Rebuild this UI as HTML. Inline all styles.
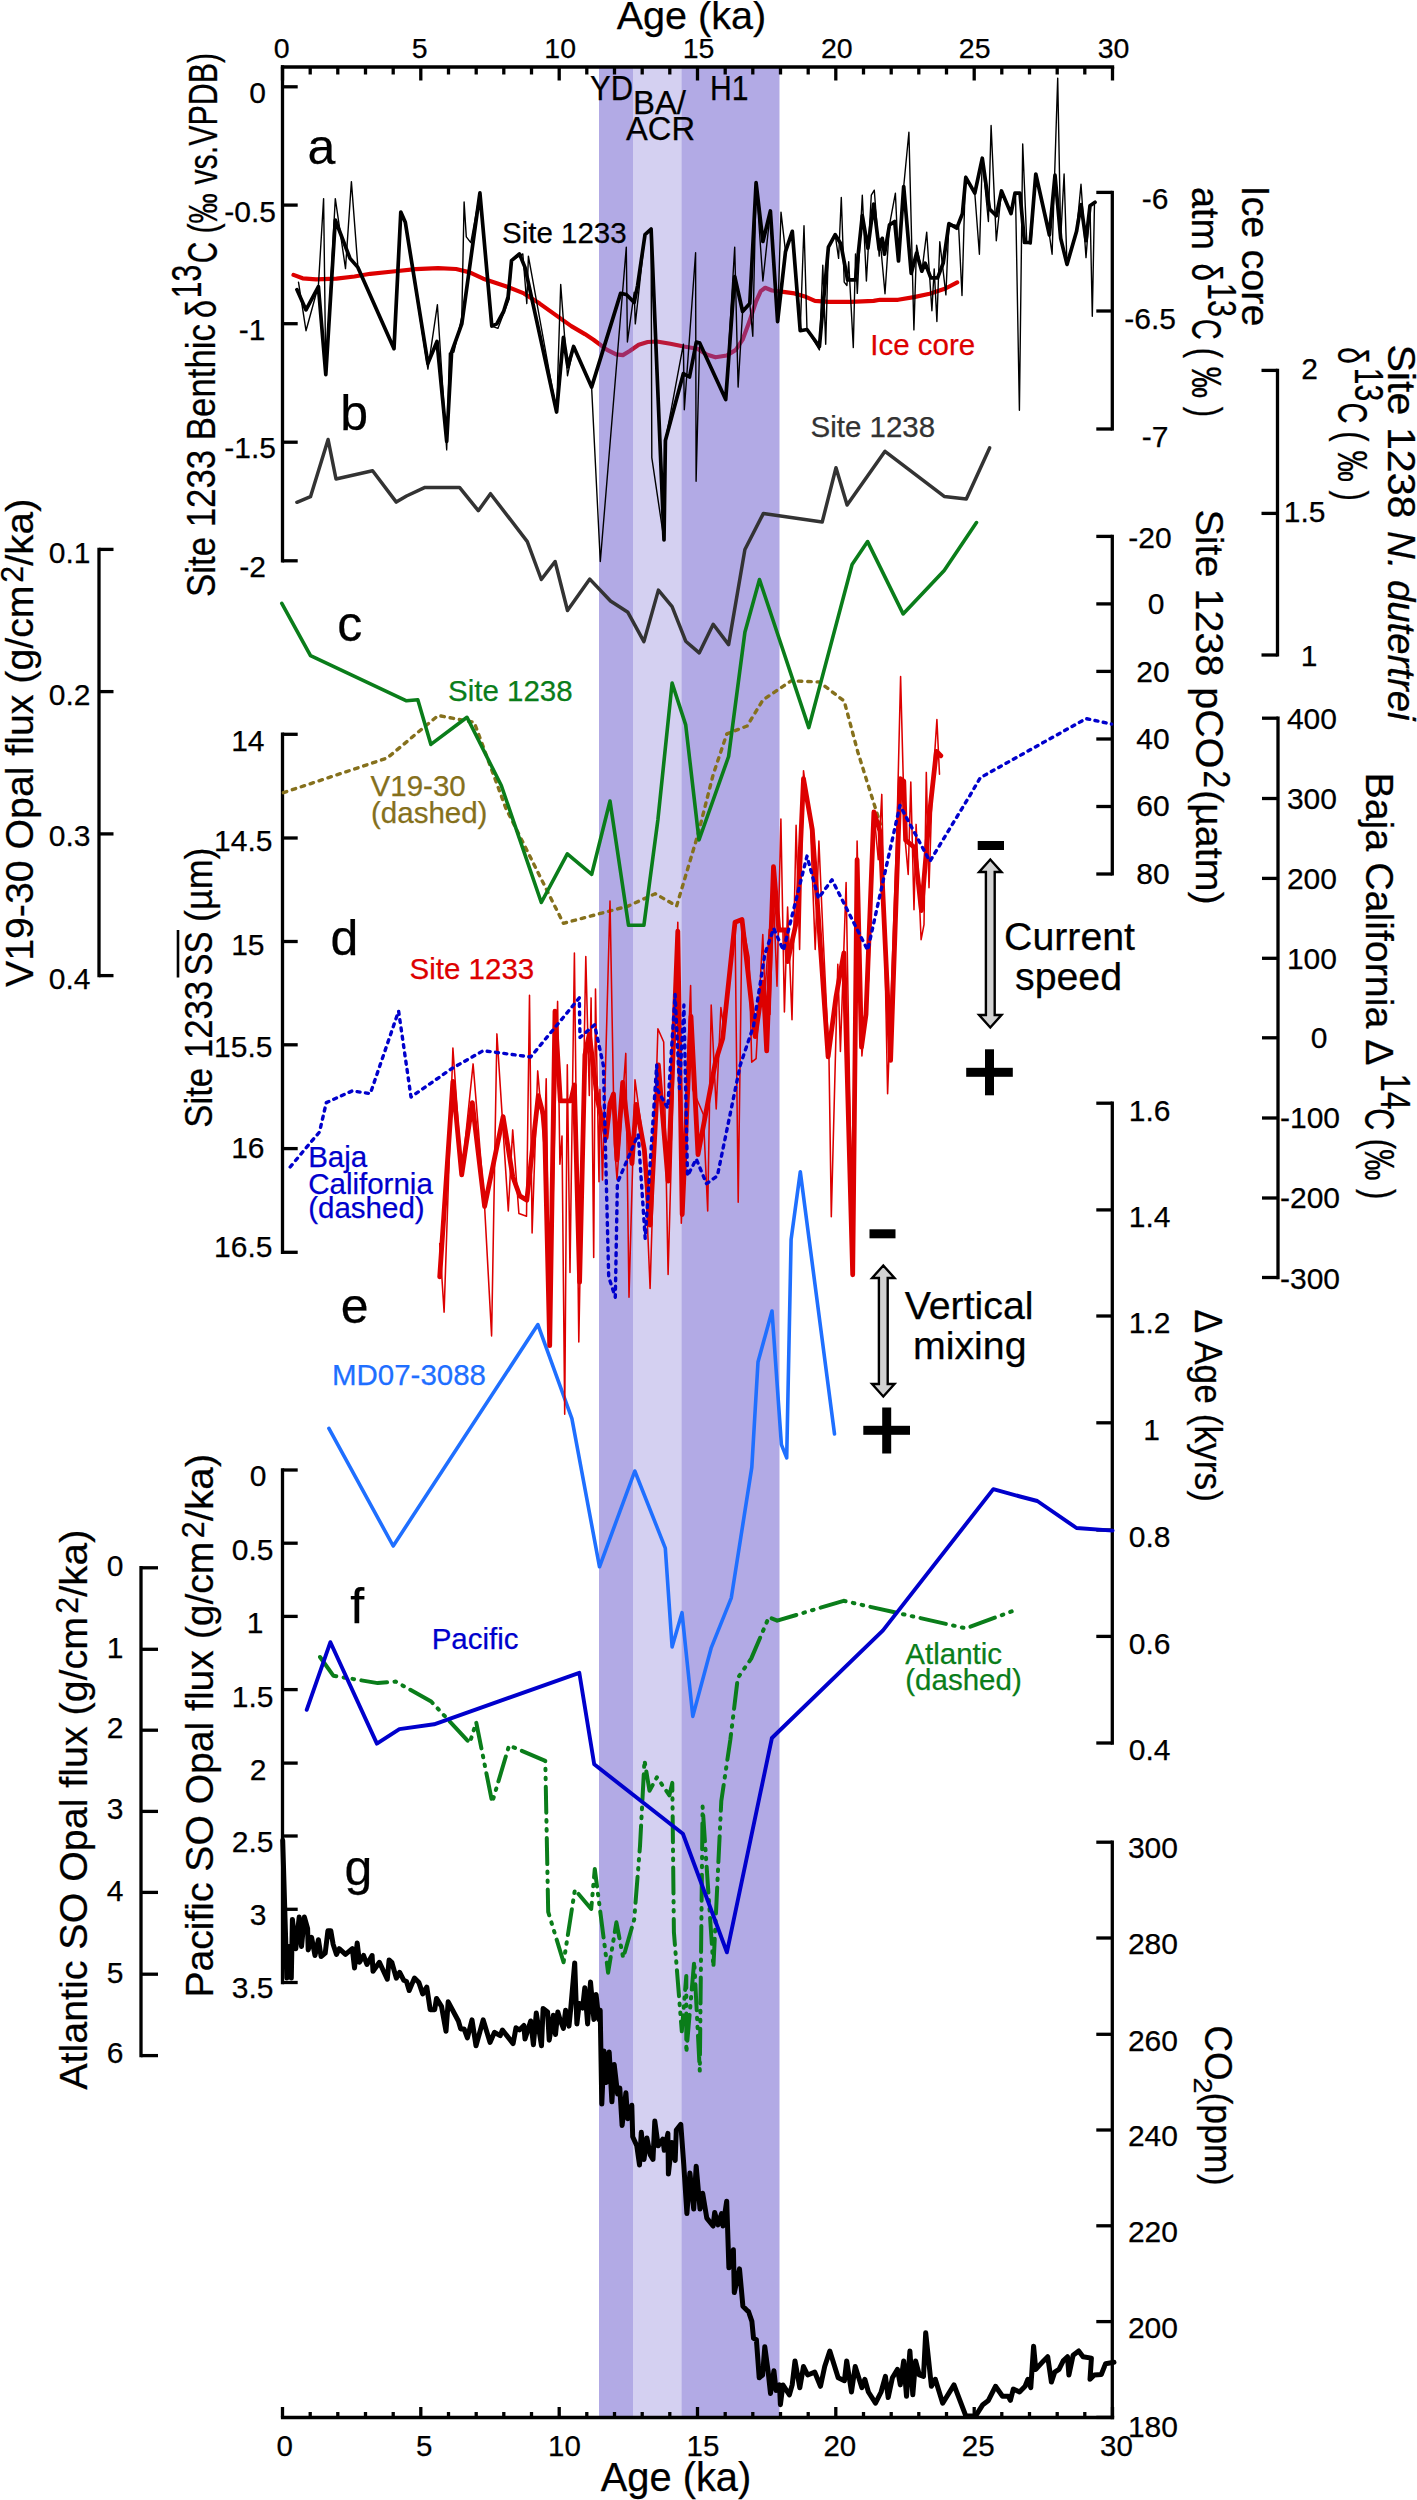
<!DOCTYPE html>
<html lang="en"><head><meta charset="utf-8"><title>Figure</title>
<style>html,body{margin:0;padding:0;background:#fff}svg{display:block}</style>
</head><body>
<svg width="1417" height="2500" viewBox="0 0 1417 2500" font-family="'Liberation Sans', Arial, sans-serif">
<rect width="1417" height="2500" fill="#fff"/>
<polyline points="293.5,274.9 302.6,278.3 316.1,279.4 336.5,278.7 354.5,276.5 370.3,273.8 392.9,271.5 415.5,269.2 438.1,268.1 456.1,269.0 469.7,272.4 483.2,278.7 505.8,286.2 523.9,293.4 539.7,303.6 555.5,314.9 571.3,326.1 584.9,334.1 593.5,339.7 607.1,349.9 616.1,354.4 622.9,355.1 629.7,351.0 638.7,344.7 647.7,342.0 656.8,341.5 670.3,343.8 683.9,346.5 697.4,348.7 706.5,354.4 715.5,357.3 726.8,355.5 735.8,349.9 742.6,339.7 749.4,321.6 756.1,301.3 760.7,291.1 765.2,287.8 772.0,290.5 783.2,291.8 794.5,293.4 805.8,296.8 814.9,300.9 828.4,301.8 851.0,301.8 873.6,300.9 880.0,299.8 898.1,299.8 913.9,297.1 929.7,293.7 945.5,288.5 957.2,282.4" fill="none" stroke="#dd0000" stroke-width="4.2" stroke-linejoin="round" stroke-linecap="round"/>
<rect x="599" y="67.0" width="34" height="2350.5" fill="#6655cc" fill-opacity="0.5"/>
<rect x="633" y="67.0" width="48.5" height="2350.5" fill="#6655cc" fill-opacity="0.28"/>
<rect x="681.5" y="67.0" width="98.0" height="2350.5" fill="#6655cc" fill-opacity="0.5"/>
<line x1="280.9" y1="67.0" x2="1114.2" y2="67.0" stroke="#000" stroke-width="3.3"/>
<line x1="282.5" y1="67.0" x2="282.5" y2="80.5" stroke="#000" stroke-width="3.3"/>
<line x1="310.2" y1="67.0" x2="310.2" y2="74.5" stroke="#000" stroke-width="3.3"/>
<line x1="337.8" y1="67.0" x2="337.8" y2="74.5" stroke="#000" stroke-width="3.3"/>
<line x1="365.5" y1="67.0" x2="365.5" y2="74.5" stroke="#000" stroke-width="3.3"/>
<line x1="393.2" y1="67.0" x2="393.2" y2="74.5" stroke="#000" stroke-width="3.3"/>
<line x1="420.8" y1="67.0" x2="420.8" y2="80.5" stroke="#000" stroke-width="3.3"/>
<line x1="448.5" y1="67.0" x2="448.5" y2="74.5" stroke="#000" stroke-width="3.3"/>
<line x1="476.2" y1="67.0" x2="476.2" y2="74.5" stroke="#000" stroke-width="3.3"/>
<line x1="503.8" y1="67.0" x2="503.8" y2="74.5" stroke="#000" stroke-width="3.3"/>
<line x1="531.5" y1="67.0" x2="531.5" y2="74.5" stroke="#000" stroke-width="3.3"/>
<line x1="559.2" y1="67.0" x2="559.2" y2="80.5" stroke="#000" stroke-width="3.3"/>
<line x1="586.8" y1="67.0" x2="586.8" y2="74.5" stroke="#000" stroke-width="3.3"/>
<line x1="614.5" y1="67.0" x2="614.5" y2="74.5" stroke="#000" stroke-width="3.3"/>
<line x1="642.2" y1="67.0" x2="642.2" y2="74.5" stroke="#000" stroke-width="3.3"/>
<line x1="669.8" y1="67.0" x2="669.8" y2="74.5" stroke="#000" stroke-width="3.3"/>
<line x1="697.5" y1="67.0" x2="697.5" y2="80.5" stroke="#000" stroke-width="3.3"/>
<line x1="725.2" y1="67.0" x2="725.2" y2="74.5" stroke="#000" stroke-width="3.3"/>
<line x1="752.8" y1="67.0" x2="752.8" y2="74.5" stroke="#000" stroke-width="3.3"/>
<line x1="780.5" y1="67.0" x2="780.5" y2="74.5" stroke="#000" stroke-width="3.3"/>
<line x1="808.2" y1="67.0" x2="808.2" y2="74.5" stroke="#000" stroke-width="3.3"/>
<line x1="835.8" y1="67.0" x2="835.8" y2="80.5" stroke="#000" stroke-width="3.3"/>
<line x1="863.5" y1="67.0" x2="863.5" y2="74.5" stroke="#000" stroke-width="3.3"/>
<line x1="891.2" y1="67.0" x2="891.2" y2="74.5" stroke="#000" stroke-width="3.3"/>
<line x1="918.8" y1="67.0" x2="918.8" y2="74.5" stroke="#000" stroke-width="3.3"/>
<line x1="946.5" y1="67.0" x2="946.5" y2="74.5" stroke="#000" stroke-width="3.3"/>
<line x1="974.2" y1="67.0" x2="974.2" y2="80.5" stroke="#000" stroke-width="3.3"/>
<line x1="1001.8" y1="67.0" x2="1001.8" y2="74.5" stroke="#000" stroke-width="3.3"/>
<line x1="1029.5" y1="67.0" x2="1029.5" y2="74.5" stroke="#000" stroke-width="3.3"/>
<line x1="1057.2" y1="67.0" x2="1057.2" y2="74.5" stroke="#000" stroke-width="3.3"/>
<line x1="1084.8" y1="67.0" x2="1084.8" y2="74.5" stroke="#000" stroke-width="3.3"/>
<line x1="1112.5" y1="67.0" x2="1112.5" y2="80.5" stroke="#000" stroke-width="3.3"/>
<line x1="280.9" y1="2417.5" x2="1114.2" y2="2417.5" stroke="#000" stroke-width="3.3"/>
<line x1="282.5" y1="2417.5" x2="282.5" y2="2407.0" stroke="#000" stroke-width="3.3"/>
<line x1="310.2" y1="2417.5" x2="310.2" y2="2412.0" stroke="#000" stroke-width="3.3"/>
<line x1="337.8" y1="2417.5" x2="337.8" y2="2412.0" stroke="#000" stroke-width="3.3"/>
<line x1="365.5" y1="2417.5" x2="365.5" y2="2412.0" stroke="#000" stroke-width="3.3"/>
<line x1="393.2" y1="2417.5" x2="393.2" y2="2412.0" stroke="#000" stroke-width="3.3"/>
<line x1="420.8" y1="2417.5" x2="420.8" y2="2407.0" stroke="#000" stroke-width="3.3"/>
<line x1="448.5" y1="2417.5" x2="448.5" y2="2412.0" stroke="#000" stroke-width="3.3"/>
<line x1="476.2" y1="2417.5" x2="476.2" y2="2412.0" stroke="#000" stroke-width="3.3"/>
<line x1="503.8" y1="2417.5" x2="503.8" y2="2412.0" stroke="#000" stroke-width="3.3"/>
<line x1="531.5" y1="2417.5" x2="531.5" y2="2412.0" stroke="#000" stroke-width="3.3"/>
<line x1="559.2" y1="2417.5" x2="559.2" y2="2407.0" stroke="#000" stroke-width="3.3"/>
<line x1="586.8" y1="2417.5" x2="586.8" y2="2412.0" stroke="#000" stroke-width="3.3"/>
<line x1="614.5" y1="2417.5" x2="614.5" y2="2412.0" stroke="#000" stroke-width="3.3"/>
<line x1="642.2" y1="2417.5" x2="642.2" y2="2412.0" stroke="#000" stroke-width="3.3"/>
<line x1="669.8" y1="2417.5" x2="669.8" y2="2412.0" stroke="#000" stroke-width="3.3"/>
<line x1="697.5" y1="2417.5" x2="697.5" y2="2407.0" stroke="#000" stroke-width="3.3"/>
<line x1="725.2" y1="2417.5" x2="725.2" y2="2412.0" stroke="#000" stroke-width="3.3"/>
<line x1="752.8" y1="2417.5" x2="752.8" y2="2412.0" stroke="#000" stroke-width="3.3"/>
<line x1="780.5" y1="2417.5" x2="780.5" y2="2412.0" stroke="#000" stroke-width="3.3"/>
<line x1="808.2" y1="2417.5" x2="808.2" y2="2412.0" stroke="#000" stroke-width="3.3"/>
<line x1="835.8" y1="2417.5" x2="835.8" y2="2407.0" stroke="#000" stroke-width="3.3"/>
<line x1="863.5" y1="2417.5" x2="863.5" y2="2412.0" stroke="#000" stroke-width="3.3"/>
<line x1="891.2" y1="2417.5" x2="891.2" y2="2412.0" stroke="#000" stroke-width="3.3"/>
<line x1="918.8" y1="2417.5" x2="918.8" y2="2412.0" stroke="#000" stroke-width="3.3"/>
<line x1="946.5" y1="2417.5" x2="946.5" y2="2412.0" stroke="#000" stroke-width="3.3"/>
<line x1="974.2" y1="2417.5" x2="974.2" y2="2407.0" stroke="#000" stroke-width="3.3"/>
<line x1="1001.8" y1="2417.5" x2="1001.8" y2="2412.0" stroke="#000" stroke-width="3.3"/>
<line x1="1029.5" y1="2417.5" x2="1029.5" y2="2412.0" stroke="#000" stroke-width="3.3"/>
<line x1="1057.2" y1="2417.5" x2="1057.2" y2="2412.0" stroke="#000" stroke-width="3.3"/>
<line x1="1084.8" y1="2417.5" x2="1084.8" y2="2412.0" stroke="#000" stroke-width="3.3"/>
<line x1="1112.5" y1="2417.5" x2="1112.5" y2="2407.0" stroke="#000" stroke-width="3.3"/>
<line x1="282.5" y1="65.3" x2="282.5" y2="562.4" stroke="#000" stroke-width="3.3"/>
<line x1="282.5" y1="86.8" x2="297.7" y2="86.8" stroke="#000" stroke-width="3.3"/>
<line x1="282.5" y1="205.1" x2="297.7" y2="205.1" stroke="#000" stroke-width="3.3"/>
<line x1="282.5" y1="323.7" x2="297.7" y2="323.7" stroke="#000" stroke-width="3.3"/>
<line x1="282.5" y1="442.2" x2="297.7" y2="442.2" stroke="#000" stroke-width="3.3"/>
<line x1="282.5" y1="560.8" x2="297.7" y2="560.8" stroke="#000" stroke-width="3.3"/>
<line x1="1112.3" y1="190.8" x2="1112.3" y2="430.6" stroke="#000" stroke-width="3.3"/>
<line x1="1112.3" y1="192.4" x2="1096.3" y2="192.4" stroke="#000" stroke-width="3.3"/>
<line x1="1112.3" y1="311.0" x2="1096.3" y2="311.0" stroke="#000" stroke-width="3.3"/>
<line x1="1112.3" y1="429.0" x2="1096.3" y2="429.0" stroke="#000" stroke-width="3.3"/>
<line x1="1277.5" y1="368.8" x2="1277.5" y2="656.6" stroke="#000" stroke-width="3.3"/>
<line x1="1277.5" y1="370.4" x2="1261.5" y2="370.4" stroke="#000" stroke-width="3.3"/>
<line x1="1277.5" y1="513.4" x2="1261.5" y2="513.4" stroke="#000" stroke-width="3.3"/>
<line x1="1277.5" y1="655.0" x2="1261.5" y2="655.0" stroke="#000" stroke-width="3.3"/>
<line x1="1112.3" y1="534.8" x2="1112.3" y2="875.6" stroke="#000" stroke-width="3.3"/>
<line x1="1112.3" y1="536.4" x2="1096.3" y2="536.4" stroke="#000" stroke-width="3.3"/>
<line x1="1112.3" y1="603.9" x2="1096.3" y2="603.9" stroke="#000" stroke-width="3.3"/>
<line x1="1112.3" y1="671.4" x2="1096.3" y2="671.4" stroke="#000" stroke-width="3.3"/>
<line x1="1112.3" y1="739.0" x2="1096.3" y2="739.0" stroke="#000" stroke-width="3.3"/>
<line x1="1112.3" y1="806.5" x2="1096.3" y2="806.5" stroke="#000" stroke-width="3.3"/>
<line x1="1112.3" y1="874.0" x2="1096.3" y2="874.0" stroke="#000" stroke-width="3.3"/>
<line x1="99.0" y1="547.8" x2="99.0" y2="977.2" stroke="#000" stroke-width="3.3"/>
<line x1="99.0" y1="549.4" x2="113.5" y2="549.4" stroke="#000" stroke-width="3.3"/>
<line x1="99.0" y1="691.6" x2="113.5" y2="691.6" stroke="#000" stroke-width="3.3"/>
<line x1="99.0" y1="833.9" x2="113.5" y2="833.9" stroke="#000" stroke-width="3.3"/>
<line x1="99.0" y1="975.6" x2="113.5" y2="975.6" stroke="#000" stroke-width="3.3"/>
<line x1="282.5" y1="732.6" x2="282.5" y2="1254.0" stroke="#000" stroke-width="3.3"/>
<line x1="282.5" y1="734.3" x2="297.7" y2="734.3" stroke="#000" stroke-width="3.3"/>
<line x1="282.5" y1="838.0" x2="297.7" y2="838.0" stroke="#000" stroke-width="3.3"/>
<line x1="282.5" y1="941.5" x2="297.7" y2="941.5" stroke="#000" stroke-width="3.3"/>
<line x1="282.5" y1="1044.8" x2="297.7" y2="1044.8" stroke="#000" stroke-width="3.3"/>
<line x1="282.5" y1="1148.6" x2="297.7" y2="1148.6" stroke="#000" stroke-width="3.3"/>
<line x1="282.5" y1="1252.3" x2="297.7" y2="1252.3" stroke="#000" stroke-width="3.3"/>
<line x1="1278.0" y1="716.6" x2="1278.0" y2="1279.2" stroke="#000" stroke-width="3.3"/>
<line x1="1278.0" y1="718.2" x2="1262.0" y2="718.2" stroke="#000" stroke-width="3.3"/>
<line x1="1278.0" y1="798.5" x2="1262.0" y2="798.5" stroke="#000" stroke-width="3.3"/>
<line x1="1278.0" y1="878.4" x2="1262.0" y2="878.4" stroke="#000" stroke-width="3.3"/>
<line x1="1278.0" y1="958.3" x2="1262.0" y2="958.3" stroke="#000" stroke-width="3.3"/>
<line x1="1278.0" y1="1037.8" x2="1262.0" y2="1037.8" stroke="#000" stroke-width="3.3"/>
<line x1="1278.0" y1="1118.0" x2="1262.0" y2="1118.0" stroke="#000" stroke-width="3.3"/>
<line x1="1278.0" y1="1198.0" x2="1262.0" y2="1198.0" stroke="#000" stroke-width="3.3"/>
<line x1="1278.0" y1="1277.5" x2="1262.0" y2="1277.5" stroke="#000" stroke-width="3.3"/>
<line x1="1112.3" y1="1101.5" x2="1112.3" y2="1744.7" stroke="#000" stroke-width="3.3"/>
<line x1="1112.3" y1="1103.2" x2="1096.3" y2="1103.2" stroke="#000" stroke-width="3.3"/>
<line x1="1112.3" y1="1209.9" x2="1096.3" y2="1209.9" stroke="#000" stroke-width="3.3"/>
<line x1="1112.3" y1="1316.0" x2="1096.3" y2="1316.0" stroke="#000" stroke-width="3.3"/>
<line x1="1112.3" y1="1422.8" x2="1096.3" y2="1422.8" stroke="#000" stroke-width="3.3"/>
<line x1="1112.3" y1="1530.0" x2="1096.3" y2="1530.0" stroke="#000" stroke-width="3.3"/>
<line x1="1112.3" y1="1636.4" x2="1096.3" y2="1636.4" stroke="#000" stroke-width="3.3"/>
<line x1="1112.3" y1="1743.0" x2="1096.3" y2="1743.0" stroke="#000" stroke-width="3.3"/>
<line x1="282.5" y1="1468.3" x2="282.5" y2="1984.2" stroke="#000" stroke-width="3.3"/>
<line x1="282.5" y1="1470.0" x2="297.7" y2="1470.0" stroke="#000" stroke-width="3.3"/>
<line x1="282.5" y1="1543.2" x2="297.7" y2="1543.2" stroke="#000" stroke-width="3.3"/>
<line x1="282.5" y1="1616.4" x2="297.7" y2="1616.4" stroke="#000" stroke-width="3.3"/>
<line x1="282.5" y1="1689.6" x2="297.7" y2="1689.6" stroke="#000" stroke-width="3.3"/>
<line x1="282.5" y1="1763.1" x2="297.7" y2="1763.1" stroke="#000" stroke-width="3.3"/>
<line x1="282.5" y1="1836.0" x2="297.7" y2="1836.0" stroke="#000" stroke-width="3.3"/>
<line x1="282.5" y1="1909.3" x2="297.7" y2="1909.3" stroke="#000" stroke-width="3.3"/>
<line x1="282.5" y1="1982.5" x2="297.7" y2="1982.5" stroke="#000" stroke-width="3.3"/>
<line x1="141.0" y1="1566.1" x2="141.0" y2="2057.2" stroke="#000" stroke-width="3.3"/>
<line x1="141.0" y1="1567.8" x2="158.0" y2="1567.8" stroke="#000" stroke-width="3.3"/>
<line x1="141.0" y1="1649.3" x2="158.0" y2="1649.3" stroke="#000" stroke-width="3.3"/>
<line x1="141.0" y1="1730.2" x2="158.0" y2="1730.2" stroke="#000" stroke-width="3.3"/>
<line x1="141.0" y1="1811.4" x2="158.0" y2="1811.4" stroke="#000" stroke-width="3.3"/>
<line x1="141.0" y1="1892.4" x2="158.0" y2="1892.4" stroke="#000" stroke-width="3.3"/>
<line x1="141.0" y1="1974.2" x2="158.0" y2="1974.2" stroke="#000" stroke-width="3.3"/>
<line x1="141.0" y1="2055.6" x2="158.0" y2="2055.6" stroke="#000" stroke-width="3.3"/>
<line x1="1112.3" y1="1840.5" x2="1112.3" y2="2419.2" stroke="#000" stroke-width="3.3"/>
<line x1="1112.3" y1="1842.2" x2="1096.3" y2="1842.2" stroke="#000" stroke-width="3.3"/>
<line x1="1112.3" y1="1938.0" x2="1096.3" y2="1938.0" stroke="#000" stroke-width="3.3"/>
<line x1="1112.3" y1="2034.3" x2="1096.3" y2="2034.3" stroke="#000" stroke-width="3.3"/>
<line x1="1112.3" y1="2130.0" x2="1096.3" y2="2130.0" stroke="#000" stroke-width="3.3"/>
<line x1="1112.3" y1="2225.8" x2="1096.3" y2="2225.8" stroke="#000" stroke-width="3.3"/>
<line x1="1112.3" y1="2321.6" x2="1096.3" y2="2321.6" stroke="#000" stroke-width="3.3"/>
<line x1="1112.3" y1="2417.4" x2="1096.3" y2="2417.4" stroke="#000" stroke-width="3.3"/>
<polyline points="283.4,792.7 387.3,758.0 438.1,715.5 474.2,722.3 505.8,808.1 563.4,923.3 628.1,906.1 655.2,893.7 676.6,906.1 698.1,833.9 713.2,774.5 726.8,733.9 747.1,726.0 762.9,700.0 791.2,680.8 819.4,682.0 844.2,701.1 857.8,752.0 880.4,824.2" fill="none" stroke="#85701c" stroke-width="3.4" stroke-linejoin="round" stroke-linecap="round" stroke-dasharray="3.5 5.9"/>
<polyline points="281.8,603.3 310.5,655.7 406.5,700.8 417.8,699.7 430.9,744.4 467.0,717.3 501.3,785.5 541.3,902.5 567.3,853.9 591.7,874.3 610.0,801.0 628.5,925.3 643.9,925.3 657.9,819.7 672.1,683.1 685.7,724.9 699.0,840.0 728.6,756.5 744.9,632.3 759.5,579.6 808.8,727.6 852.1,564.5 867.6,541.6 903.1,613.9 944.2,570.5 976.5,522.6" fill="none" stroke="#0a7d1a" stroke-width="3.6" stroke-linejoin="round" stroke-linecap="round"/>
<polyline points="296.9,502.3 310.5,496.7 328.1,439.5 336.0,479.0 372.6,470.7 396.3,502.1 406.5,496.0 425.0,487.4 459.5,487.4 478.3,510.7 490.5,493.7 527.3,541.6 541.3,579.5 555.1,561.5 567.5,610.5 589.8,579.1 610.5,601.0 627.9,612.3 643.9,641.6 658.4,590.1 672.1,606.6 685.7,641.2 699.2,652.9 713.2,624.2 728.6,644.6 744.9,549.5 763.4,513.4 822.2,522.0 836.0,467.8 847.1,505.0 885.0,451.3 944.2,496.4 966.3,498.9 989.6,447.9" fill="none" stroke="#333333" stroke-width="3.5" stroke-linejoin="round" stroke-linecap="round"/>
<polyline points="298.5,282.1 306.0,330.7 318.4,285.5 323.6,198.6 325.8,374.7 335.3,198.6 345.5,268.6 351.4,181.6 357.9,267.4 394.0,348.7 400.8,212.1 405.3,222.3 427.9,369.1 437.4,304.7 446.7,449.9 446.7,449.2 449.4,353.2 453.9,352.1 461.8,317.1 464.1,201.9 466.3,236.9 470.8,242.6 479.9,192.9 491.8,326.1 497.9,328.4 509.2,299.0 511.5,260.7 522.8,253.9 526.8,303.6 528.4,256.1 556.6,412.0 560.7,284.4 567.5,375.8 573.6,346.5 591.6,387.1 600.3,561.5 626.3,247.1 627.4,342.0 634.2,292.3 635.3,323.9 645.0,234.7 651.1,229.0 651.8,457.6 664.0,540.0 665.4,440.6 683.4,344.2 684.3,409.7 695.6,252.8 696.1,481.3 699.7,342.0 725.7,399.5 734.7,247.1 738.1,387.1 742.6,311.5 749.8,303.6 752.8,336.3 756.1,182.7 762.9,281.0 770.4,211.0 777.6,321.6 781.0,212.1 785.5,251.6 792.3,231.3 800.2,330.7 804.0,225.7 807.0,329.5 819.4,349.9 822.8,265.2 825.7,344.2 828.4,247.1 835.2,234.7 838.6,258.4 841.3,197.4 844.2,282.1 846.9,285.5 848.7,261.8 853.3,347.6 855.5,253.9 857.3,293.4 862.3,195.2 866.4,281.0 871.3,195.2 874.3,190.2 879.2,256.1 880.0,238.4 885.0,293.7 889.5,224.9 895.4,193.2 898.5,261.0 903.7,186.5 908.9,132.3 913.9,329.9 916.6,245.2 921.8,272.3 926.7,232.1 931.9,310.7 934.2,268.9 936.9,321.5 939.8,241.8 945.9,294.9 948.9,223.7 958.6,226.0 962.0,295.5 965.4,176.3 974.8,193.2 979.4,254.2 982.3,158.2 988.4,221.5 991.1,125.5 996.3,240.7 1001.5,191.0 1011.0,213.6 1015.5,193.2 1019.4,410.2 1022.7,144.0 1026.8,242.9 1030.9,244.1 1035.8,174.0 1049.4,235.0 1052.1,254.2 1057.7,78.1 1060.7,238.4 1064.1,174.0 1067.0,265.5 1076.5,231.6 1081.0,184.2 1086.0,257.6 1090.0,205.7 1092.3,316.3 1094.5,202.3" fill="none" stroke="#000" stroke-width="1.4" stroke-linejoin="round" stroke-linecap="round"/>
<polyline points="296.9,289.6 306.0,309.9 318.4,286.6 325.8,374.7 335.3,220.0 350.0,258.4 357.9,267.4 394.0,348.7 400.8,212.1 405.3,222.3 427.9,363.4 437.0,341.5 446.7,441.3 451.6,352.1 461.8,323.9 479.9,192.9 491.8,326.1 496.8,323.9 503.6,311.5 508.1,296.8 511.5,260.7 519.4,253.9 525.0,267.4 556.6,412.0 563.4,337.4 567.9,366.8 573.6,346.5 591.6,387.1 620.6,293.4 626.3,294.5 634.2,302.4 637.6,285.5 645.0,234.7 651.1,229.0 664.0,540.0 665.4,440.6 683.4,373.6 689.5,377.0 696.3,342.0 699.7,343.1 725.7,399.5 734.7,276.5 742.6,311.5 749.8,303.6 756.1,182.7 762.9,241.5 770.4,211.0 777.6,321.6 785.5,251.6 792.3,231.3 800.2,330.7 807.0,329.5 819.4,346.5 828.4,247.1 835.2,234.7 840.8,243.7 847.6,279.9 855.5,279.9 862.3,215.5 867.9,248.2 873.6,204.2 879.2,249.4 882.3,238.4 884.5,254.2 889.5,224.9 894.7,221.5 898.5,261.0 903.7,186.5 911.2,273.4 916.6,253.1 921.8,271.2 925.2,263.2 930.8,277.9 937.6,277.9 943.2,263.2 948.9,223.7 956.8,228.2 962.4,213.6 965.8,177.4 974.8,193.2 982.3,158.2 989.5,209.0 996.3,215.8 1001.5,191.0 1011.0,213.6 1015.0,193.2 1020.0,193.2 1024.5,242.5 1030.2,242.5 1035.8,174.0 1049.4,235.0 1055.0,175.2 1060.7,238.4 1067.0,264.4 1076.5,231.6 1081.0,204.5 1086.0,240.7 1090.0,205.7 1095.0,202.3" fill="none" stroke="#000" stroke-width="3.7" stroke-linejoin="round" stroke-linecap="round"/>
<polyline points="328.9,1428.3 393.2,1546.0 537.9,1324.6 571.9,1418.6 599.5,1566.8 634.8,1471.0 665.3,1548.1 672.1,1647.0 682.0,1612.7 692.8,1716.4 711.1,1648.2 731.3,1597.8 751.8,1467.4 758.0,1362.0 772.0,1311.0 781.4,1444.7 786.7,1457.9 791.1,1239.6 800.3,1171.8 834.5,1434.0" fill="none" stroke="#1f6fff" stroke-width="3.6" stroke-linejoin="round" stroke-linecap="round"/>
<polyline points="439.7,1243.5 444.1,1312.1 452.9,1048.0 461.7,1174.8 473.1,1063.9 484.6,1206.5 491.6,1335.9 496.9,1033.9 508.3,1210.9 512.7,1129.9 518.9,1213.5 526.5,1216.2 529.5,995.2 532.1,1232.9 537.7,1070.9 544.4,1150.1 546.2,1078.8 549.7,1345.6 557.6,1001.4 559.9,1164.2 562.0,1136.1 564.7,1414.2 567.3,1064.8 570.0,1272.5 574.4,953.0 578.8,1342.0 585.8,956.5 589.3,1095.6 591.1,997.9 593.7,1257.5 595.5,989.0 599.0,1181.8 599.9,1089.4 602.5,1180.1 610.0,901.1 614.4,1144.1 617.0,1179.3 625.8,1053.4 629.0,1297.3 635.0,1079.8 644.3,1149.4 650.1,1288.5 657.9,1028.8 663.7,1042.0 668.1,1274.4 677.8,922.3 681.3,1223.3 690.6,985.6 692.7,1089.5 703.3,1114.2 707.7,1211.0 711.2,1005.0 716.2,1108.9 720.9,1007.6 724.4,1031.4 735.0,922.3 738.2,1202.2 742.0,919.6 749.1,957.5 751.7,1062.2 756.1,1058.7 762.8,934.6 764.9,992.7 769.3,929.3 770.0,1014.5 773.5,896.5 777.0,986.3 780.9,819.1 784.4,1011.9 787.6,907.1 792.0,1019.8 796.1,825.2 799.6,949.4 803.5,770.7 810.5,826.1 815.2,949.4 818.9,841.1 822.8,930.0 829.0,1058.5 831.3,1216.7 837.8,964.3 840.4,1051.5 846.1,882.5 852.7,1271.3 857.1,841.1 861.9,1055.9 868.6,979.3 873.9,812.0 878.3,859.6 881.8,794.4 887.6,1093.7 896.8,834.9 900.6,676.5 904.7,834.9 908.2,874.5 910.8,782.1 914.0,909.8 916.1,824.4 921.1,939.7 924.0,924.7 926.3,772.4 929.0,887.7 932.0,794.4 936.9,719.6 939.5,774.2" fill="none" stroke="#dd0000" stroke-width="1.55" stroke-linejoin="round" stroke-linecap="round"/>
<polyline points="439.7,1276.9 452.9,1081.5 461.7,1174.8 472.3,1102.6 484.6,1206.5 503.1,1116.7 512.7,1176.5 519.8,1195.9 526.8,1200.3 538.3,1095.6 544.4,1118.5 549.7,1345.6 555.0,1011.1 560.3,1100.8 570.8,1100.8 574.4,1085.0 579.6,1282.2 584.9,1055.1 589.3,1033.9 597.3,1099.1 606.1,1137.8 610.0,1103.6 613.5,1093.9 617.0,1159.9 622.7,1082.5 632.0,1163.5 636.1,1104.5 644.3,1149.4 650.1,1225.1 658.4,1064.9 668.1,1181.1 677.8,931.1 682.2,1214.5 691.0,1016.4 698.0,1154.6 715.6,1061.3 722.7,1038.5 735.0,922.3 742.0,919.6 755.2,1036.7 763.2,982.1 766.7,1050.8 773.5,866.6 778.8,930.0 785.8,930.0 787.6,961.7 797.3,917.7 803.5,778.6 812.3,829.6 828.1,1056.8 836.0,996.9 843.9,952.9 852.7,1274.8 857.1,859.6 861.5,1047.1 866.0,1014.5 873.9,812.0 880.0,831.4 890.6,1060.3 900.3,778.6 903.8,781.2 905.6,840.2 914.4,847.3 921.4,910.6 929.3,815.6 936.4,751.3 940.8,755.7" fill="none" stroke="#dd0000" stroke-width="4.8" stroke-linejoin="round" stroke-linecap="round"/>
<polyline points="290.2,1167.0 307.1,1146.6 319.5,1132.0 326.3,1102.6 352.3,1090.9 370.3,1093.6 398.6,1011.1 411.0,1097.0 451.6,1068.7 483.2,1050.7 530.7,1057.0 579.3,997.9 580.0,1037.5 594.6,1024.8 603.4,1065.6 608.7,1276.9 615.3,1297.3 617.4,1182.8 638.2,1134.4 645.2,1238.3 656.7,1064.9 657.2,1089.5 667.7,1108.0 675.1,994.4 679.5,1088.6 683.9,1005.0 687.5,1175.8 696.3,1159.0 706.5,1183.7 717.4,1175.8 740.3,1064.9 753.5,1026.1 764.9,953.9 773.7,928.4 783.4,950.4 807.0,856.1 818.4,898.3 832.0,879.8 867.7,950.2 899.9,805.4 929.9,861.3 970.0,795.3 980.3,777.7 1086.1,718.6 1111.6,724.1" fill="none" stroke="#0000cc" stroke-width="3.4" stroke-linejoin="round" stroke-linecap="round" stroke-dasharray="3.0 5.4"/>
<polyline points="320.0,1657.0 333.3,1675.7 377.8,1683.1 395.6,1681.6 431.2,1701.5 469.7,1743.0 476.2,1722.3 492.2,1802.3 509.1,1745.4 545.3,1760.8 548.2,1911.9 563.6,1962.3 574.9,1889.7 591.2,1909.0 594.8,1869.0 608.1,1972.7 616.4,1922.3 623.2,1957.9 634.2,1919.4 640.0,1846.1 644.5,1760.3 649.5,1790.8 656.9,1777.3 669.4,1795.3 672.3,1782.9 673.9,1932.0 681.8,2031.3 686.3,1976.0 686.3,2052.8 694.2,1961.3 699.8,2070.9 702.6,1806.6 713.4,1967.0 721.3,1801.0 730.3,1740.0 737.8,1677.9 751.2,1658.6 768.9,1617.1 777.2,1620.7 843.6,1600.8 966.0,1628.4 1017.9,1609.1" fill="none" stroke="#0a7d1a" stroke-width="4.0" stroke-linejoin="round" stroke-linecap="round" stroke-dasharray="26 7.4 1.6 7.4 1.6 7.4"/>
<polyline points="306.7,1709.8 330.4,1642.2 376.9,1743.6 399.4,1729.1 434.1,1724.3 579.3,1672.8 594.2,1764.3 682.9,1833.8 726.9,1952.3 771.9,1738.0 883.0,1630.4 993.3,1489.1 1020.0,1496.5 1037.3,1501.0 1076.5,1528.0 1112.6,1530.6" fill="none" stroke="#0000cc" stroke-width="3.9" stroke-linejoin="round" stroke-linecap="round"/>
<polyline points="282.7,1840.3 285.6,1937.4 286.8,1978.1 289.0,1946.5 291.3,1978.1 292.4,1919.4 295.8,1948.7 299.2,1917.1 301.5,1946.5 304.4,1917.1 307.6,1928.4 308.2,1949.9 311.6,1937.4 315.0,1955.5 318.4,1939.7 321.1,1956.6 325.2,1953.2 327.9,1930.7 330.8,1930.7 333.1,1944.2 336.5,1954.4 339.2,1948.7 345.5,1954.4 352.3,1948.7 354.5,1967.9 357.2,1943.1 359.5,1962.3 363.6,1955.5 366.9,1964.5 372.1,1955.5 373.0,1971.3 379.4,1962.3 387.3,1979.2 389.1,1960.0 391.8,1962.3 396.3,1978.1 399.7,1972.4 403.8,1980.3 406.5,1981.5 409.2,1990.5 414.4,1978.1 418.9,1982.6 422.7,1993.9 426.8,1987.1 430.2,2009.7 434.7,2009.7 436.5,1998.4 441.5,2006.3 446.0,2031.2 448.2,2001.8 458.4,2021.0 460.7,2028.9 464.1,2028.9 467.4,2037.9 472.0,2019.9 476.0,2045.8 483.2,2019.9 490.0,2042.4 494.5,2032.3 500.2,2035.7 502.4,2030.0 513.1,2043.6 516.0,2027.8 519.4,2030.0 523.9,2025.5 525.0,2039.1 530.7,2021.0 533.4,2044.7 536.3,2013.1 541.5,2045.8 543.1,2008.6 547.6,2012.0 549.2,2040.2 553.3,2015.3 555.5,2034.5 557.8,2012.0 560.0,2019.4 563.4,2028.4 565.6,2010.3 569.0,2026.1 570.8,2008.1 574.7,1962.9 576.9,2023.9 579.2,2003.6 582.6,2008.1 584.8,1987.7 587.6,2023.9 590.5,1982.1 593.9,2019.4 596.1,1994.5 598.8,2019.4 600.2,2010.3 601.8,2104.1 604.0,2051.0 606.3,2082.6 609.2,2052.1 611.9,2101.8 614.2,2064.5 617.6,2093.9 619.8,2088.2 622.1,2125.5 625.9,2092.8 627.7,2118.7 631.8,2105.2 632.7,2136.8 636.8,2145.8 639.5,2165.0 641.3,2132.3 644.0,2159.4 646.9,2137.9 650.3,2154.9 653.0,2159.4 654.8,2121.0 658.2,2145.8 662.8,2139.1 664.3,2150.3 667.9,2133.4 668.4,2174.1 671.8,2142.4 675.2,2160.5 676.3,2130.0 680.8,2124.4 683.8,2165.0 686.9,2213.6 689.9,2172.9 693.7,2209.1 696.2,2166.2 700.0,2209.1 702.7,2193.3 706.8,2218.1 713.1,2226.0 714.7,2212.4 718.1,2224.9 721.5,2213.6 723.0,2226.0 726.7,2201.2 728.9,2267.8 733.4,2249.7 734.3,2292.6 739.5,2268.9 742.9,2306.2 747.4,2310.7 748.5,2311.5 751.9,2321.4 753.5,2338.3 756.4,2339.7 759.2,2377.8 762.6,2375.0 764.8,2346.8 768.2,2372.2 770.5,2393.4 773.9,2370.8 776.1,2390.5 779.5,2384.9 780.4,2404.7 782.9,2384.9 789.4,2394.8 792.2,2384.9 795.0,2360.9 799.8,2387.7 803.5,2366.5 807.7,2375.0 814.8,2372.2 820.5,2386.3 824.7,2366.5 829.8,2351.0 838.2,2377.8 844.4,2380.7 846.7,2360.9 851.5,2392.0 855.2,2366.5 861.9,2387.7 864.8,2379.3 868.4,2392.0 875.5,2403.2 881.1,2392.0 885.4,2376.4 888.2,2397.6 892.4,2377.8 897.5,2369.4 900.3,2384.9 903.7,2360.9 906.5,2396.2 909.9,2351.0 912.8,2394.8 915.6,2360.9 919.3,2375.0 923.5,2376.4 925.7,2332.7 931.4,2386.3 935.3,2379.3 942.7,2403.2 954.0,2384.9 965.8,2415.9 975.7,2415.9 982.8,2404.7 988.4,2400.4 995.5,2386.3 1002.5,2396.2 1008.2,2396.2 1010.4,2400.4 1013.3,2389.1 1019.5,2392.0 1025.1,2386.3 1027.9,2379.3 1030.8,2387.7 1033.6,2346.2 1035.8,2369.4 1043.5,2360.9 1047.7,2356.7 1051.4,2382.1 1054.7,2372.2 1059.0,2369.4 1063.2,2360.9 1067.5,2356.7 1068.9,2375.0 1073.1,2355.3 1078.7,2351.0 1083.0,2356.7 1091.4,2358.1 1090.0,2379.3 1094.3,2375.0 1101.3,2374.5 1105.6,2363.7 1114.0,2362.3" fill="none" stroke="#000" stroke-width="5.0" stroke-linejoin="round" stroke-linecap="round"/>
<text x="281.8" y="57.8" font-size="28.5" text-anchor="middle" fill="#000" stroke="#000" stroke-width="0.25">0</text>
<text x="419.8" y="57.8" font-size="28.5" text-anchor="middle" fill="#000" stroke="#000" stroke-width="0.25">5</text>
<text x="560.2" y="57.8" font-size="28.5" text-anchor="middle" fill="#000" stroke="#000" stroke-width="0.25">10</text>
<text x="698.5" y="57.8" font-size="28.5" text-anchor="middle" fill="#000" stroke="#000" stroke-width="0.25">15</text>
<text x="836.8" y="57.8" font-size="28.5" text-anchor="middle" fill="#000" stroke="#000" stroke-width="0.25">20</text>
<text x="974.7" y="57.8" font-size="28.5" text-anchor="middle" fill="#000" stroke="#000" stroke-width="0.25">25</text>
<text x="1113.5" y="57.8" font-size="28.5" text-anchor="middle" fill="#000" stroke="#000" stroke-width="0.25">30</text>
<text x="284.7" y="2456.0" font-size="29.5" text-anchor="middle" fill="#000" stroke="#000" stroke-width="0.25">0</text>
<text x="424.3" y="2456.0" font-size="29.5" text-anchor="middle" fill="#000" stroke="#000" stroke-width="0.25">5</text>
<text x="564.4" y="2456.0" font-size="29.5" text-anchor="middle" fill="#000" stroke="#000" stroke-width="0.25">10</text>
<text x="703.0" y="2456.0" font-size="29.5" text-anchor="middle" fill="#000" stroke="#000" stroke-width="0.25">15</text>
<text x="839.8" y="2456.0" font-size="29.5" text-anchor="middle" fill="#000" stroke="#000" stroke-width="0.25">20</text>
<text x="978.2" y="2456.0" font-size="29.5" text-anchor="middle" fill="#000" stroke="#000" stroke-width="0.25">25</text>
<text x="1116.5" y="2456.0" font-size="29.5" text-anchor="middle" fill="#000" stroke="#000" stroke-width="0.25">30</text>
<text x="266.0" y="102.6" font-size="30" text-anchor="end" fill="#000" stroke="#000" stroke-width="0.25">0</text>
<text x="276.0" y="221.7" font-size="30" text-anchor="end" fill="#000" stroke="#000" stroke-width="0.25">-0.5</text>
<text x="265.5" y="339.7" font-size="30" text-anchor="end" fill="#000" stroke="#000" stroke-width="0.25">-1</text>
<text x="276.0" y="458.2" font-size="30" text-anchor="end" fill="#000" stroke="#000" stroke-width="0.25">-1.5</text>
<text x="266.0" y="577.4" font-size="30" text-anchor="end" fill="#000" stroke="#000" stroke-width="0.25">-2</text>
<text x="1155.0" y="209.2" font-size="30" text-anchor="middle" fill="#000" stroke="#000" stroke-width="0.25">-6</text>
<text x="1150.2" y="328.7" font-size="30" text-anchor="middle" fill="#000" stroke="#000" stroke-width="0.25">-6.5</text>
<text x="1155.0" y="447.3" font-size="30" text-anchor="middle" fill="#000" stroke="#000" stroke-width="0.25">-7</text>
<text x="1309.7" y="379.0" font-size="30" text-anchor="middle" fill="#000" stroke="#000" stroke-width="0.25">2</text>
<text x="1304.7" y="522.2" font-size="30" text-anchor="middle" fill="#000" stroke="#000" stroke-width="0.25">1.5</text>
<text x="1309.0" y="665.7" font-size="30" text-anchor="middle" fill="#000" stroke="#000" stroke-width="0.25">1</text>
<text x="1150.0" y="548.1" font-size="30" text-anchor="middle" fill="#000" stroke="#000" stroke-width="0.25">-20</text>
<text x="1156.0" y="613.7" font-size="30" text-anchor="middle" fill="#000" stroke="#000" stroke-width="0.25">0</text>
<text x="1153.0" y="682.3" font-size="30" text-anchor="middle" fill="#000" stroke="#000" stroke-width="0.25">20</text>
<text x="1153.0" y="748.8" font-size="30" text-anchor="middle" fill="#000" stroke="#000" stroke-width="0.25">40</text>
<text x="1153.0" y="816.4" font-size="30" text-anchor="middle" fill="#000" stroke="#000" stroke-width="0.25">60</text>
<text x="1153.0" y="884.0" font-size="30" text-anchor="middle" fill="#000" stroke="#000" stroke-width="0.25">80</text>
<text x="90.5" y="563.3" font-size="30" text-anchor="end" fill="#000" stroke="#000" stroke-width="0.25">0.1</text>
<text x="90.5" y="704.7" font-size="30" text-anchor="end" fill="#000" stroke="#000" stroke-width="0.25">0.2</text>
<text x="90.5" y="846.4" font-size="30" text-anchor="end" fill="#000" stroke="#000" stroke-width="0.25">0.3</text>
<text x="90.5" y="988.7" font-size="30" text-anchor="end" fill="#000" stroke="#000" stroke-width="0.25">0.4</text>
<text x="264.5" y="750.9" font-size="30" text-anchor="end" fill="#000" stroke="#000" stroke-width="0.25">14</text>
<text x="272.5" y="850.7" font-size="30" text-anchor="end" fill="#000" stroke="#000" stroke-width="0.25">14.5</text>
<text x="264.5" y="954.5" font-size="30" text-anchor="end" fill="#000" stroke="#000" stroke-width="0.25">15</text>
<text x="272.5" y="1057.0" font-size="30" text-anchor="end" fill="#000" stroke="#000" stroke-width="0.25">15.5</text>
<text x="264.5" y="1157.7" font-size="30" text-anchor="end" fill="#000" stroke="#000" stroke-width="0.25">16</text>
<text x="272.5" y="1257.1" font-size="30" text-anchor="end" fill="#000" stroke="#000" stroke-width="0.25">16.5</text>
<text x="1337.0" y="729.1" font-size="30" text-anchor="end" fill="#000" stroke="#000" stroke-width="0.25">400</text>
<text x="1337.0" y="809.2" font-size="30" text-anchor="end" fill="#000" stroke="#000" stroke-width="0.25">300</text>
<text x="1337.0" y="889.1" font-size="30" text-anchor="end" fill="#000" stroke="#000" stroke-width="0.25">200</text>
<text x="1337.0" y="969.0" font-size="30" text-anchor="end" fill="#000" stroke="#000" stroke-width="0.25">100</text>
<text x="1327.5" y="1048.2" font-size="30" text-anchor="end" fill="#000" stroke="#000" stroke-width="0.25">0</text>
<text x="1340.0" y="1128.3" font-size="30" text-anchor="end" fill="#000" stroke="#000" stroke-width="0.25">-100</text>
<text x="1340.0" y="1207.8" font-size="30" text-anchor="end" fill="#000" stroke="#000" stroke-width="0.25">-200</text>
<text x="1340.0" y="1288.5" font-size="30" text-anchor="end" fill="#000" stroke="#000" stroke-width="0.25">-300</text>
<text x="1170.5" y="1120.5" font-size="30" text-anchor="end" fill="#000" stroke="#000" stroke-width="0.25">1.6</text>
<text x="1170.5" y="1226.9" font-size="30" text-anchor="end" fill="#000" stroke="#000" stroke-width="0.25">1.4</text>
<text x="1170.5" y="1333.3" font-size="30" text-anchor="end" fill="#000" stroke="#000" stroke-width="0.25">1.2</text>
<text x="1160.0" y="1440.4" font-size="30" text-anchor="end" fill="#000" stroke="#000" stroke-width="0.25">1</text>
<text x="1170.5" y="1547.2" font-size="30" text-anchor="end" fill="#000" stroke="#000" stroke-width="0.25">0.8</text>
<text x="1170.5" y="1653.7" font-size="30" text-anchor="end" fill="#000" stroke="#000" stroke-width="0.25">0.6</text>
<text x="1170.5" y="1760.2" font-size="30" text-anchor="end" fill="#000" stroke="#000" stroke-width="0.25">0.4</text>
<text x="266.5" y="1486.3" font-size="30" text-anchor="end" fill="#000" stroke="#000" stroke-width="0.25">0</text>
<text x="273.5" y="1559.7" font-size="30" text-anchor="end" fill="#000" stroke="#000" stroke-width="0.25">0.5</text>
<text x="263.5" y="1632.9" font-size="30" text-anchor="end" fill="#000" stroke="#000" stroke-width="0.25">1</text>
<text x="273.5" y="1706.9" font-size="30" text-anchor="end" fill="#000" stroke="#000" stroke-width="0.25">1.5</text>
<text x="266.5" y="1779.5" font-size="30" text-anchor="end" fill="#000" stroke="#000" stroke-width="0.25">2</text>
<text x="273.5" y="1852.2" font-size="30" text-anchor="end" fill="#000" stroke="#000" stroke-width="0.25">2.5</text>
<text x="266.5" y="1924.7" font-size="30" text-anchor="end" fill="#000" stroke="#000" stroke-width="0.25">3</text>
<text x="273.5" y="1998.3" font-size="30" text-anchor="end" fill="#000" stroke="#000" stroke-width="0.25">3.5</text>
<text x="115.0" y="1575.5" font-size="30" text-anchor="middle" fill="#000" stroke="#000" stroke-width="0.25">0</text>
<text x="115.0" y="1657.7" font-size="30" text-anchor="middle" fill="#000" stroke="#000" stroke-width="0.25">1</text>
<text x="115.0" y="1738.3" font-size="30" text-anchor="middle" fill="#000" stroke="#000" stroke-width="0.25">2</text>
<text x="115.0" y="1819.3" font-size="30" text-anchor="middle" fill="#000" stroke="#000" stroke-width="0.25">3</text>
<text x="115.0" y="1901.4" font-size="30" text-anchor="middle" fill="#000" stroke="#000" stroke-width="0.25">4</text>
<text x="115.0" y="1982.9" font-size="30" text-anchor="middle" fill="#000" stroke="#000" stroke-width="0.25">5</text>
<text x="115.0" y="2062.7" font-size="30" text-anchor="middle" fill="#000" stroke="#000" stroke-width="0.25">6</text>
<text x="1178.0" y="1858.4" font-size="30" text-anchor="end" fill="#000" stroke="#000" stroke-width="0.25">300</text>
<text x="1178.0" y="1954.2" font-size="30" text-anchor="end" fill="#000" stroke="#000" stroke-width="0.25">280</text>
<text x="1178.0" y="2050.5" font-size="30" text-anchor="end" fill="#000" stroke="#000" stroke-width="0.25">260</text>
<text x="1178.0" y="2146.2" font-size="30" text-anchor="end" fill="#000" stroke="#000" stroke-width="0.25">240</text>
<text x="1178.0" y="2242.0" font-size="30" text-anchor="end" fill="#000" stroke="#000" stroke-width="0.25">220</text>
<text x="1178.0" y="2337.8" font-size="30" text-anchor="end" fill="#000" stroke="#000" stroke-width="0.25">200</text>
<text x="1178.0" y="2436.7" font-size="30" text-anchor="end" fill="#000" stroke="#000" stroke-width="0.25">180</text>
<text x="691.5" y="28.6" font-size="39.6" text-anchor="middle" fill="#000" stroke="#000" stroke-width="0.25">Age (ka)</text>
<text x="676.0" y="2491.0" font-size="39.8" text-anchor="middle" fill="#000" stroke="#000" stroke-width="0.25">Age (ka)</text>
<text transform="translate(215.3,597.0) rotate(-90)" font-size="40" text-anchor="start" fill="#000" stroke="#000" stroke-width="0.25" textLength="273.0" lengthAdjust="spacingAndGlyphs">Site 1233 Benthic</text>
<text transform="translate(215.6,318.2) rotate(-90)" font-size="42" text-anchor="start" fill="#000" stroke="#000" stroke-width="0.25" textLength="18.5" lengthAdjust="spacingAndGlyphs">δ</text>
<text transform="translate(201.0,298.3) rotate(-90)" font-size="42" text-anchor="start" fill="#000" stroke="#000" stroke-width="0.25" textLength="33.5" lengthAdjust="spacingAndGlyphs">13</text>
<text transform="translate(217.0,263.2) rotate(-90)" font-size="42" text-anchor="start" fill="#000" stroke="#000" stroke-width="0.25" textLength="21.5" lengthAdjust="spacingAndGlyphs">C</text>
<text transform="translate(216.8,233.5) rotate(-90)" font-size="40" text-anchor="start" fill="#000" stroke="#000" stroke-width="0.25" textLength="180.5" lengthAdjust="spacingAndGlyphs">(‰ vs.VPDB)</text>
<text transform="translate(32.6,987.0) rotate(-90)" font-size="39" text-anchor="start" fill="#000" stroke="#000" stroke-width="0.25" textLength="401.5" lengthAdjust="spacingAndGlyphs">V19-30 Opal flux (g/cm</text>
<text transform="translate(23.3,582.8) rotate(-90)" font-size="32" text-anchor="start" fill="#000" stroke="#000" stroke-width="0.25" textLength="16.8" lengthAdjust="spacingAndGlyphs">2</text>
<text transform="translate(32.6,566.0) rotate(-90)" font-size="39" text-anchor="start" fill="#000" stroke="#000" stroke-width="0.25" textLength="67.5" lengthAdjust="spacingAndGlyphs">/ka)</text>
<text transform="translate(211.9,1127.8) rotate(-90)" font-size="39" text-anchor="start" fill="#000" stroke="#000" stroke-width="0.25" textLength="147.0" lengthAdjust="spacingAndGlyphs">Site 1233</text>
<text transform="translate(211.9,975.5) rotate(-90)" font-size="39" text-anchor="start" fill="#000" stroke="#000" stroke-width="0.25" textLength="44.0" lengthAdjust="spacingAndGlyphs">SS</text>
<line x1="178.0" y1="930.0" x2="178.0" y2="977.5" stroke="#000" stroke-width="2.6"/>
<text transform="translate(211.9,922.0) rotate(-90)" font-size="39" text-anchor="start" fill="#000" stroke="#000" stroke-width="0.25" textLength="74.5" lengthAdjust="spacingAndGlyphs">(µm)</text>
<text transform="translate(213.4,1997.6) rotate(-90)" font-size="39" text-anchor="start" fill="#000" stroke="#000" stroke-width="0.25" textLength="456.0" lengthAdjust="spacingAndGlyphs">Pacific SO Opal flux (g/cm</text>
<text transform="translate(203.5,1538.2) rotate(-90)" font-size="32" text-anchor="start" fill="#000" stroke="#000" stroke-width="0.25" textLength="16.8" lengthAdjust="spacingAndGlyphs">2</text>
<text transform="translate(213.4,1521.3) rotate(-90)" font-size="39" text-anchor="start" fill="#000" stroke="#000" stroke-width="0.25" textLength="67.5" lengthAdjust="spacingAndGlyphs">/ka)</text>
<text transform="translate(87.4,2089.7) rotate(-90)" font-size="39" text-anchor="start" fill="#000" stroke="#000" stroke-width="0.25" textLength="472.7" lengthAdjust="spacingAndGlyphs">Atlantic SO Opal flux (g/cm</text>
<text transform="translate(77.5,1613.7) rotate(-90)" font-size="32" text-anchor="start" fill="#000" stroke="#000" stroke-width="0.25" textLength="16.8" lengthAdjust="spacingAndGlyphs">2</text>
<text transform="translate(87.4,1597.0) rotate(-90)" font-size="39" text-anchor="start" fill="#000" stroke="#000" stroke-width="0.25" textLength="67.5" lengthAdjust="spacingAndGlyphs">/ka)</text>
<text transform="translate(1241.9,185.5) rotate(90)" font-size="38" text-anchor="start" fill="#000" stroke="#000" stroke-width="0.25" textLength="141.0" lengthAdjust="spacingAndGlyphs">Ice core</text>
<text transform="translate(1192.0,187.0) rotate(90)" font-size="38" text-anchor="start" fill="#000" stroke="#000" stroke-width="0.25" textLength="63.0" lengthAdjust="spacingAndGlyphs">atm</text>
<text transform="translate(1191.5,263.4) rotate(90)" font-size="42" text-anchor="start" fill="#000" stroke="#000" stroke-width="0.25" textLength="17.5" lengthAdjust="spacingAndGlyphs">δ</text>
<text transform="translate(1208.3,283.0) rotate(90)" font-size="41.5" text-anchor="start" fill="#000" stroke="#000" stroke-width="0.25" textLength="34.0" lengthAdjust="spacingAndGlyphs">13</text>
<text transform="translate(1191.5,318.8) rotate(90)" font-size="42" text-anchor="start" fill="#000" stroke="#000" stroke-width="0.25" textLength="21.0" lengthAdjust="spacingAndGlyphs">C</text>
<text transform="translate(1191.5,347.7) rotate(90)" font-size="42" text-anchor="start" fill="#000" stroke="#000" stroke-width="0.25" textLength="69.5" lengthAdjust="spacingAndGlyphs">( ‰ )</text>
<text transform="translate(1387.9,344.5) rotate(90)" font-size="39" text-anchor="start" fill="#000" stroke="#000" stroke-width="0.25" textLength="174.0" lengthAdjust="spacingAndGlyphs">Site 1238</text>
<text transform="translate(1387.9,531.0) rotate(90)" font-size="39" text-anchor="start" fill="#000" stroke="#000" stroke-width="0.25" textLength="189.5" lengthAdjust="spacingAndGlyphs" style="font-style:italic">N. dutertrei</text>
<text transform="translate(1337.8,347.1) rotate(90)" font-size="42" text-anchor="start" fill="#000" stroke="#000" stroke-width="0.25" textLength="17.0" lengthAdjust="spacingAndGlyphs">δ</text>
<text transform="translate(1355.2,367.8) rotate(90)" font-size="41.5" text-anchor="start" fill="#000" stroke="#000" stroke-width="0.25" textLength="33.5" lengthAdjust="spacingAndGlyphs">13</text>
<text transform="translate(1337.8,402.4) rotate(90)" font-size="42" text-anchor="start" fill="#000" stroke="#000" stroke-width="0.25" textLength="21.0" lengthAdjust="spacingAndGlyphs">C</text>
<text transform="translate(1337.8,431.3) rotate(90)" font-size="42" text-anchor="start" fill="#000" stroke="#000" stroke-width="0.25" textLength="69.7" lengthAdjust="spacingAndGlyphs">( ‰ )</text>
<text transform="translate(1196.1,509.5) rotate(90)" font-size="39" text-anchor="start" fill="#000" stroke="#000" stroke-width="0.25" textLength="259.0" lengthAdjust="spacingAndGlyphs">Site 1238 pCO</text>
<text transform="translate(1204.0,770.4) rotate(90)" font-size="36" text-anchor="start" fill="#000" stroke="#000" stroke-width="0.25" textLength="17.6" lengthAdjust="spacingAndGlyphs">2</text>
<text transform="translate(1196.1,790.1) rotate(90)" font-size="39" text-anchor="start" fill="#000" stroke="#000" stroke-width="0.25" textLength="114.4" lengthAdjust="spacingAndGlyphs">(µatm)</text>
<text transform="translate(1365.6,772.5) rotate(90)" font-size="39" text-anchor="start" fill="#000" stroke="#000" stroke-width="0.25" textLength="293.0" lengthAdjust="spacingAndGlyphs">Baja California Δ</text>
<text transform="translate(1381.0,1073.8) rotate(90)" font-size="42" text-anchor="start" fill="#000" stroke="#000" stroke-width="0.25" textLength="36.0" lengthAdjust="spacingAndGlyphs">14</text>
<text transform="translate(1365.2,1108.2) rotate(90)" font-size="42" text-anchor="start" fill="#000" stroke="#000" stroke-width="0.25" textLength="22.0" lengthAdjust="spacingAndGlyphs">C</text>
<text transform="translate(1365.2,1138.8) rotate(90)" font-size="42" text-anchor="start" fill="#000" stroke="#000" stroke-width="0.25" textLength="60.5" lengthAdjust="spacingAndGlyphs">(‰ )</text>
<text transform="translate(1195.2,1309.5) rotate(90)" font-size="39" text-anchor="start" fill="#000" stroke="#000" stroke-width="0.25" textLength="192.5" lengthAdjust="spacingAndGlyphs">Δ Age (kyrs)</text>
<text transform="translate(1205.0,2025.5) rotate(90)" font-size="39" text-anchor="start" fill="#000" stroke="#000" stroke-width="0.25" textLength="55.0" lengthAdjust="spacingAndGlyphs">CO</text>
<text transform="translate(1194.2,2077.5) rotate(90)" font-size="26" text-anchor="start" fill="#000" stroke="#000" stroke-width="0.25" textLength="16.0" lengthAdjust="spacingAndGlyphs">2</text>
<text transform="translate(1205.0,2092.5) rotate(90)" font-size="39" text-anchor="start" fill="#000" stroke="#000" stroke-width="0.25" textLength="93.0" lengthAdjust="spacingAndGlyphs">(ppm)</text>
<text x="590.0" y="99.5" font-size="35" text-anchor="start" fill="#000" stroke="#000" stroke-width="0.25" textLength="43.0" lengthAdjust="spacingAndGlyphs">YD</text>
<text x="633.0" y="113.5" font-size="32.5" text-anchor="start" fill="#000" stroke="#000" stroke-width="0.25" textLength="53.0" lengthAdjust="spacingAndGlyphs">BA/</text>
<text x="626.0" y="139.5" font-size="33" text-anchor="start" fill="#000" stroke="#000" stroke-width="0.25" textLength="69.0" lengthAdjust="spacingAndGlyphs">ACR</text>
<text x="710.0" y="99.5" font-size="35" text-anchor="start" fill="#000" stroke="#000" stroke-width="0.25" textLength="38.5" lengthAdjust="spacingAndGlyphs">H1</text>
<text x="307.6" y="163.5" font-size="50" text-anchor="start" fill="#000" stroke="#000" stroke-width="0.25">a</text>
<text x="340.3" y="429.5" font-size="50" text-anchor="start" fill="#000" stroke="#000" stroke-width="0.25">b</text>
<text x="337.2" y="641.0" font-size="50" text-anchor="start" fill="#000" stroke="#000" stroke-width="0.25">c</text>
<text x="330.6" y="954.8" font-size="50" text-anchor="start" fill="#000" stroke="#000" stroke-width="0.25">d</text>
<text x="340.8" y="1322.6" font-size="50" text-anchor="start" fill="#000" stroke="#000" stroke-width="0.25">e</text>
<text x="350.2" y="1623.4" font-size="50" text-anchor="start" fill="#000" stroke="#000" stroke-width="0.25">f</text>
<text x="344.6" y="1885.1" font-size="50" text-anchor="start" fill="#000" stroke="#000" stroke-width="0.25">g</text>
<text x="502.0" y="243.0" font-size="29.5" text-anchor="start" fill="#000" stroke="#000" stroke-width="0.25">Site 1233</text>
<text x="870.3" y="354.8" font-size="29.5" text-anchor="start" fill="#dd0000" stroke="#dd0000" stroke-width="0.25">Ice core</text>
<text x="810.5" y="436.6" font-size="29.5" text-anchor="start" fill="#333" stroke="#333" stroke-width="0.25">Site 1238</text>
<text x="448.0" y="701.3" font-size="29.5" text-anchor="start" fill="#0a7d1a" stroke="#0a7d1a" stroke-width="0.25">Site 1238</text>
<text x="370.6" y="795.7" font-size="29.5" text-anchor="start" fill="#85701c" stroke="#85701c" stroke-width="0.25">V19-30</text>
<text x="371.0" y="822.8" font-size="29.5" text-anchor="start" fill="#85701c" stroke="#85701c" stroke-width="0.25">(dashed)</text>
<text x="409.6" y="979.4" font-size="29.5" text-anchor="start" fill="#dd0000" stroke="#dd0000" stroke-width="0.25">Site 1233</text>
<text x="308.2" y="1167.0" font-size="29.5" text-anchor="start" fill="#0000cc" stroke="#0000cc" stroke-width="0.25">Baja</text>
<text x="308.2" y="1193.5" font-size="29.5" text-anchor="start" fill="#0000cc" stroke="#0000cc" stroke-width="0.25">California</text>
<text x="308.2" y="1218.0" font-size="29.5" text-anchor="start" fill="#0000cc" stroke="#0000cc" stroke-width="0.25">(dashed)</text>
<text x="331.9" y="1384.5" font-size="29.5" text-anchor="start" fill="#1f6fff" stroke="#1f6fff" stroke-width="0.25">MD07-3088</text>
<text x="431.7" y="1648.9" font-size="29.5" text-anchor="start" fill="#0000cc" stroke="#0000cc" stroke-width="0.25">Pacific</text>
<text x="905.3" y="1663.6" font-size="29.5" text-anchor="start" fill="#0a7d1a" stroke="#0a7d1a" stroke-width="0.25">Atlantic</text>
<text x="905.3" y="1689.7" font-size="29.5" text-anchor="start" fill="#0a7d1a" stroke="#0a7d1a" stroke-width="0.25">(dashed)</text>
<text x="1004.0" y="950.0" font-size="39.3" text-anchor="start" fill="#000" stroke="#000" stroke-width="0.25">Current</text>
<text x="1015.0" y="989.5" font-size="39.3" text-anchor="start" fill="#000" stroke="#000" stroke-width="0.25">speed</text>
<text x="904.7" y="1318.8" font-size="39.3" text-anchor="start" fill="#000" stroke="#000" stroke-width="0.25">Vertical</text>
<text x="913.0" y="1359.3" font-size="39.3" text-anchor="start" fill="#000" stroke="#000" stroke-width="0.25">mixing</text>
<rect x="977.7" y="841.0" width="26.3" height="9.0" fill="#000"/>
<polygon points="990.3,859.5 1001.5,872.0 994.7,872.0 994.7,1015.0 1001.5,1015.0 990.3,1027.5 979.1,1015.0 985.9,1015.0 985.9,872.0 979.1,872.0" fill="#d2d2d2" stroke="#000" stroke-width="2.4" stroke-linejoin="miter"/>
<rect x="966.2" y="1067.8" width="46.6" height="9.0" fill="#000"/>
<rect x="985.0" y="1049.3" width="9.0" height="46.0" fill="#000"/>
<rect x="869.5" y="1229.3" width="26.0" height="9.0" fill="#000"/>
<polygon points="883.3,1265.5 894.5,1278.0 887.7,1278.0 887.7,1384.0 894.5,1384.0 883.3,1396.5 872.1,1384.0 878.9,1384.0 878.9,1278.0 872.1,1278.0" fill="#d2d2d2" stroke="#000" stroke-width="2.4" stroke-linejoin="miter"/>
<rect x="863.3" y="1425.8" width="46.7" height="9.0" fill="#000"/>
<rect x="882.2" y="1407.5" width="9.0" height="46.0" fill="#000"/>
</svg>
</body></html>
